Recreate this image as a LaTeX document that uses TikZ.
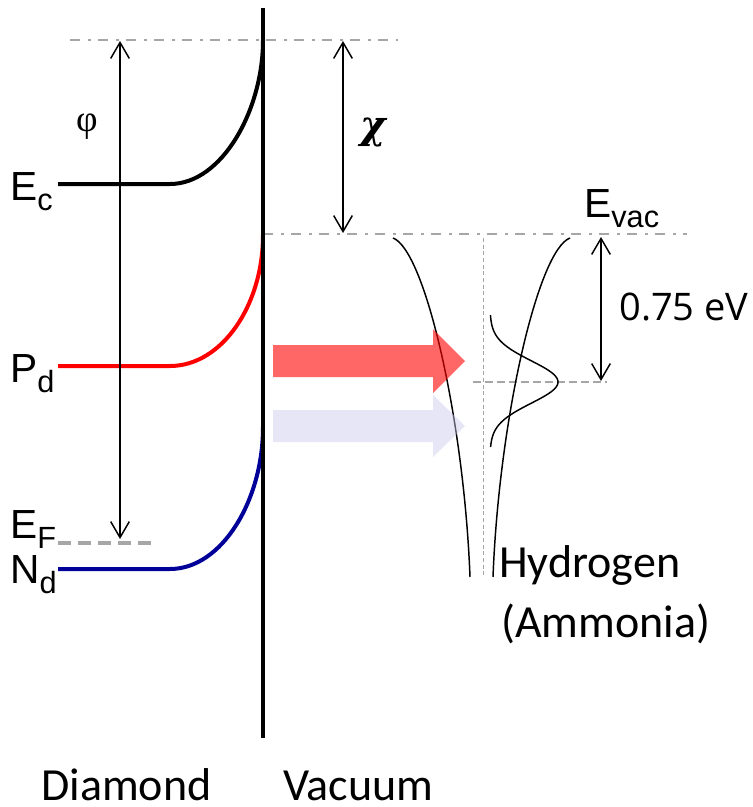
\documentclass[tikz,border=0pt]{standalone}
\usepackage{fontspec}
\usepackage{xcolor}
\usepackage{tikz}
\usetikzlibrary{arrows.meta,positioning}
\newfontfamily\arialfont{Liberation Sans}
\newfontfamily\calfont{Carlito}
\newfontfamily\osfont{Open Sans}
\newfontfamily\serifgr{Liberation Serif}
\newfontfamily\chifont{DejaVu Serif}
\definecolor{ndblue}{RGB}{0,0,153}
\definecolor{guidegray}{RGB}{166,166,166}
\definecolor{lavender}{RGB}{200,200,235}
\newcommand{\lvlab}[2]{#1\raisebox{-7.5pt}{\fontsize{23}{23}\selectfont #2}}

\begin{document}
\begin{tikzpicture}[x=0.75pt,y=-0.75pt,
level/.style={line width=3pt},guide/.style={guidegray,line width=1.6pt,dash pattern=on 7.5pt off 6pt on 2.5pt off 5pt},
dim/.style={{Straight Barb[length=12pt,width=14pt]}-{Straight Barb[length=12pt,width=14pt]},line width=1.1pt},
well/.style={line width=1.1pt},lab/.style={inner sep=0pt,anchor=base west,font=\arialfont\fontsize{30.5}{30.5}\selectfont},
txt/.style={inner sep=0pt,anchor=base west,font=\calfont\fontsize{34.5}{34.5}\selectfont}]
\useasboundingbox (0,0) rectangle (753,807);
% guides
\draw[guide] (70,40)--(398,40); \draw[guide] (263,234)--(687,234);
\draw[guidegray,line width=1.5pt,dash pattern=on 6pt off 3pt] (473,382)--(607,382);
\draw[guidegray,line width=0.6pt,dash pattern=on 3pt off 2pt] (483,238)--(483,578);
\draw[guidegray,line width=3.6pt,dash pattern=on 9.75pt off 5.25pt] (58,543)--(153,543);
% band edges
\draw[level] (58,184)--(170,184) .. controls (222,184) and (263,110) .. (263,40);
\draw[level,red] (58,366)--(170,366) .. controls (222,366) and (263,305) .. (263,235);
\draw[level,ndblue] (58,569)--(170,569) .. controls (222,569) and (263,500) .. (263,427);
\draw[line width=3.4pt] (263,8)--(263,738);
% well and state
\draw[well] (393,238) .. controls (425,250) and (464,420) .. (470,577);
\draw[well] (570,238) .. controls (538,250) and (499,420) .. (493,577);
\draw[well] plot[domain=315:447,samples=80,smooth] ({490+68*exp(-((\x-382)/30)^2)},\x);
\fill[red,fill opacity=0.6] (273,345)--(433,345)--(433,329)--(465,361)--(433,393)--(433,377)--(273,377)--cycle;
\fill[lavender,fill opacity=0.45] (273,410)--(433,410)--(433,395)--(465,426)--(433,457)--(433,442)--(273,442)--cycle;
% dimensions
\coordinate (phitop) at (120,41); \coordinate (phibot) at (120,539);
\coordinate (chitop) at (343,41); \coordinate (chibot) at (343,233);
\coordinate (evtop) at (601,237); \coordinate (evbot) at (601,381);
\draw[dim] (phitop)--(phibot); \draw[dim] (chitop)--(chibot); \draw[dim] (evtop)--(evbot);
% labels
\node[lab] (ec) at (10,200) {\lvlab{E}{c}};
\node[lab] (pd) at (10,382) {\lvlab{P}{d}};
\node[lab] (ef) at (10,538) {\lvlab{E}{F}};
\node[lab] (nd) at (10,583) {\lvlab{N}{d}};
\node[lab] (evac) at (584,217) {\lvlab{E}{vac}};
\node[inner sep=0pt,font=\serifgr\fontsize{28}{28}\selectfont] (phi) at (87,127) {φ};
\node[inner sep=0pt,font=\chifont\bfseries\itshape\fontsize{29}{29}\selectfont] (chi) at (373,132) {χ};
\node[inner sep=0pt,anchor=base west,font=\osfont\fontsize{28.5}{28.5}\selectfont] (gap) at (619,320) {0.75 eV};
\node[txt] (hyd) at (499,577) {Hydrogen};
\node[txt] (amm) at (501,637) {(Ammonia)};
\node[txt] (dia) at (41,800) {Diamond};
\node[txt] (vac) at (283,800) {Vacuum};
\end{tikzpicture}
\end{document}
